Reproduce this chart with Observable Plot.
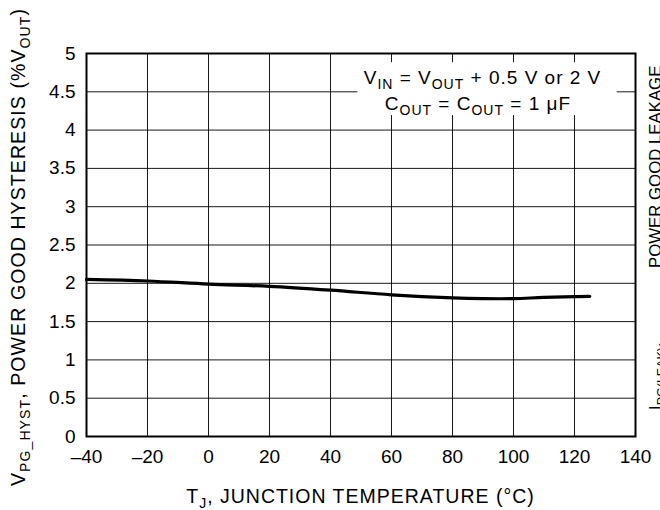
<!DOCTYPE html>
<html><head><meta charset="utf-8">
<script src="https://cdn.jsdelivr.net/npm/d3@7"></script>
<script src="https://cdn.jsdelivr.net/npm/@observablehq/plot@0.6"></script>
<style>html,body{margin:0;padding:0;background:#fff}svg{display:block}</style>
</head><body><div id="chart"></div>
<script>
// ---- data ----
const temps = [-40, -20, 0, 20, 40, 60, 80, 90, 100, 110, 125];
const hyst  = [2.05, 2.03, 1.99, 1.96, 1.91, 1.85, 1.81, 1.80, 1.80, 1.815, 1.83];
const xTicks = [-40, -20, 0, 20, 40, 60, 80, 100, 120, 140];
const yTicks = [0, 0.5, 1, 1.5, 2, 2.5, 3, 3.5, 4, 4.5, 5];
const xTitle = [["T", 0], ["J", 1], [", JUNCTION TEMPERATURE (°C)", 0]];
const yTitle = [["V", 0], ["PG_HYST", 1], [", POWER GOOD HYSTERESIS (%V", 0], ["OUT", 1], [")", 0]];
const note1 = [["V", 0], ["IN", 1], [" = V", 0], ["OUT", 1], [" + 0.5 V or 2 V", 0]];
const note2 = [["C", 0], ["OUT", 1], [" = C", 0], ["OUT", 1], [" = 1 μF", 0]];
const sideA = [["I", 0], ["PG(LEAK)", 1], [",", 0]];
const sideB = [["POWER GOOD LEAKAGE", 0]];
const noteBox = [{x1: 49, x2: 134, y1: 4.19, y2: 4.88}];

const FONT = "'Liberation Sans',Arial,Helvetica,sans-serif";
const data = temps.map((t, i) => ({t, v: hyst[i]}));
const fmtX = d => d < 0 ? "\u2013" + (-d) : String(d);

const chart = Plot.plot({
  width: 660, height: 510,
  marginLeft: 86, marginRight: 25, marginTop: 53, marginBottom: 74,
  style: {fontFamily: FONT, fontSize: "19px", color: "#000", background: "#fff"},
  x: {domain: [-40, 140]},
  y: {domain: [0, 5]},
  marks: [
    Plot.gridX(xTicks, {stroke: "#000", strokeOpacity: 0.9, strokeWidth: 1}),
    Plot.gridY(yTicks, {stroke: "#000", strokeOpacity: 0.9, strokeWidth: 1}),
    Plot.rect(noteBox, {x1: "x1", x2: "x2", y1: "y1", y2: "y2", fill: "#fff"}),
    Plot.frame({stroke: "#000", strokeWidth: 2}),
    Plot.line(data, {x: "t", y: "v", curve: "catmull-rom", stroke: "#000", strokeWidth: 3.2}),
    Plot.axisX(xTicks, {tickSize: 0, tickPadding: 13, tickFormat: fmtX, label: null, fontSize: 19}),
    Plot.axisY(yTicks, {tickSize: 0, tickPadding: 11, tickFormat: d => String(d), label: null, fontSize: 19})
  ]
});
document.getElementById("chart").appendChild(chart);

const svg = d3.select(chart);
const sx = chart.scale("x"), sy = chart.scale("y");
function addText(parts, attrs, size, subSize, spacing) {
  const t = svg.append("text")
    .attr("font-family", FONT).attr("font-size", size).attr("fill", "#000")
    .attr("letter-spacing", spacing);
  for (const [k, v] of Object.entries(attrs)) t.attr(k, v);
  let inSub = false;
  for (const [s, sub] of parts) {
    const ts = t.append("tspan").text(s);
    if (sub) { ts.attr("font-size", subSize).attr("dy", 5); inSub = true; }
    else if (inSub) { ts.attr("dy", -5); inSub = false; }
  }
  return t;
}
const cx = (sx.apply(-40) + sx.apply(140)) / 2;
addText(xTitle, {x: cx, y: 503, "text-anchor": "middle"}, 19.5, 14, 1);
addText(yTitle, {transform: `translate(25,247) rotate(-90)`, "text-anchor": "middle"}, 19.5, 14, 1.1);
addText(note1, {x: sx.apply(90), y: sy.apply(4.6), "text-anchor": "middle"}, 19, 14, 1);
addText(note2, {x: sx.apply(88.5), y: sy.apply(4.25), "text-anchor": "middle"}, 19, 14, 1);
addText(sideA, {transform: "translate(660.5,410) rotate(-90)", "text-anchor": "start"}, 16.8, 12.5, 0);
addText(sideB, {transform: "translate(660.5,268) rotate(-90)", "text-anchor": "start"}, 16.8, 12.5, 0);
</script>
</body></html>
